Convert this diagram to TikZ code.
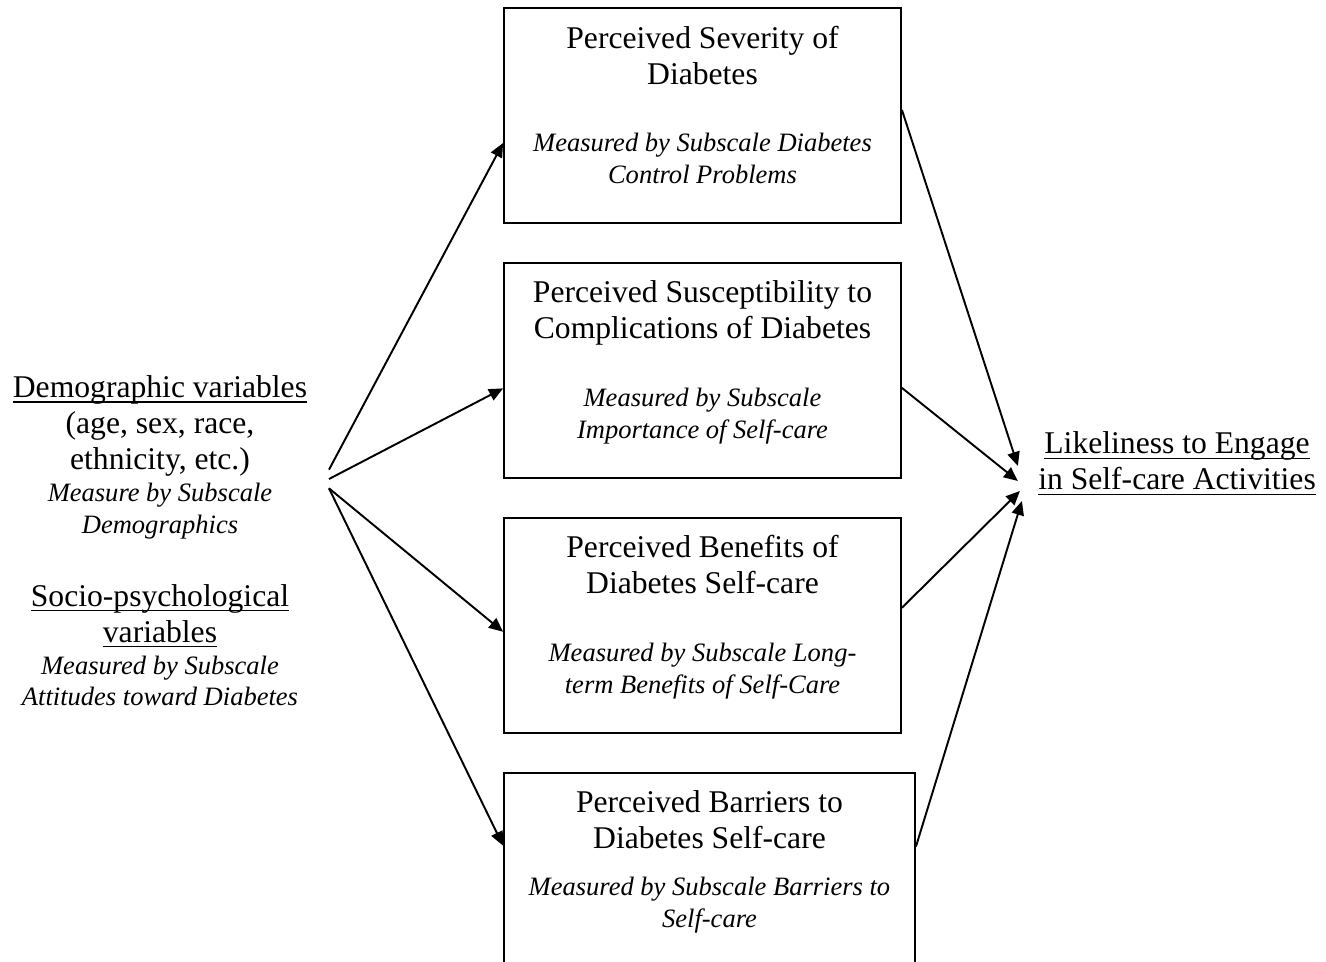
\documentclass[tikz,border=0pt]{standalone}
\usepackage{amsmath}
\usepackage{fontspec}
\setmainfont{Liberation Serif}
\usetikzlibrary{positioning,calc,arrows.meta}
\newcommand{\meas}{\itshape\fontsize{15.1}{18.1}\selectfont}
\newcommand{\undl}[1]{\underline{\smash[b]{#1}}}
\tikzset{
  mbox/.style={draw,line width=1.1pt,minimum width=7.94cm,minimum height=4.3cm,
               inner sep=0pt},
  mtxt/.style={text width=7.6cm,align=flush center,inner sep=0pt,
               font=\fontsize{18}{20.5}\selectfont},
  vtxt/.style={align=flush center,inner sep=0pt,font=\fontsize{18}{20.5}\selectfont},
  arr/.style={-{Triangle[length=8pt,width=7pt]},line width=1.1pt},
}

\begin{document}
\begin{tikzpicture}[x=0.02cm,y=-0.02cm,node distance=0.76cm]
        \useasboundingbox (0,0) rectangle (1326,962);
        \clip (0,0) rectangle (1326,962);
        \node[mbox] (sev) at (702.5,115.5) {};
        \node[mbox,below=of sev] (sus) {};
        \node[mbox,below=of sus] (ben) {};
        \node[mbox,minimum width=8.22cm,below=of ben.south west,anchor=north west] (bar) {};
        \node[mtxt,below=0.37cm of sev.north] (sevt) {Perceived Severity of\\Diabetes\par
          \vspace{0.72cm}{\meas Measured by Subscale Diabetes\\Control Problems\par}};
        \node[mtxt,below=0.37cm of sus.north] (sust) {Perceived Susceptibility to\\Complications of Diabetes\par
          \vspace{0.72cm}{\meas Measured by Subscale\\Importance of Self-care\par}};
        \node[mtxt,below=0.37cm of ben.north] (bent) {Perceived Benefits of\\Diabetes Self-care\par
          \vspace{0.72cm}{\meas Measured by Subscale Long-\\term Benefits of Self-Care\par}};
        \node[mtxt,below=0.37cm of bar.north] (bart) {Perceived Barriers to\\Diabetes Self-care\par
          \vspace{0.3cm}{\meas Measured by Subscale Barriers to\\Self-care\par}};
        \node[vtxt,text width=6.4cm] (vars) at (160,541) {\undl{Demographic variables}\\(age, sex, race,\\ethnicity, etc.)\par
          {\meas Measure by Subscale\\Demographics\par}\vspace{0.74cm}
          \undl{Socio-psychological}\\\undl{variables}\par
          {\meas Measured by Subscale\\Attitudes toward Diabetes\par}};
        \node[vtxt] (goal) at (1177,464) {\undl{Likeliness to Engage}\\\undl{in Self-care Activities}};
        \node[inner sep=0pt,minimum width=0pt,minimum height=0.36cm] (src) at (329,479) {};
        \draw[arr] (src.north) -- ($(sev.west)+(0,27.5)$);
        \draw[arr] (src.center) -- ($(sus.west)+(0,18)$);
        \draw[arr] (src.south) -- ($(ben.west)+(0,6.5)$);
        \draw[arr] (src.south) -- ($(bar.west)+(0,-34.5)$);
        \draw[arr] ($(sev.east)+(0,-5.5)$) -- ($(goal.west)+(-20,2)$);
        \draw[arr] ($(sus.east)+(0,17.5)$) -- ($(goal.west)+(-20,17)$);
        \draw[arr] ($(ben.east)+(0,-17.5)$) -- ($(goal.west)+(-18,27)$);
        \draw[arr] ($(bar.east)+(0,-33.5)$) -- ($(goal.west)+(-16,37)$);
      \end{tikzpicture}
\end{document}
